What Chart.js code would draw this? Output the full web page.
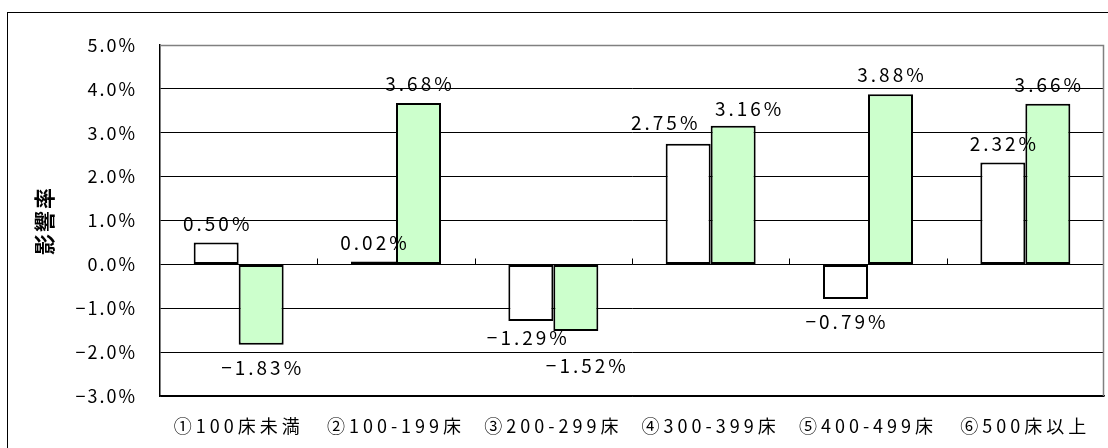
<!DOCTYPE html>
<html>
<head>
<meta charset="utf-8">
<script src="https://cdn.jsdelivr.net/npm/chart.js@4/dist/chart.umd.min.js"></script>
<style>
  html, body { margin: 0; padding: 0; background: #fff; overflow: hidden; }
  #frame { position: absolute; left: 7px; top: 12px; width: 1200px; height: 600px; border: 1px solid #000; }
  #chartCanvas { position: absolute; left: 0; top: 0; }
</style>
</head>
<body>
<div id="frame"></div>
<canvas id="chartCanvas" width="1108" height="448"></canvas>
<script>
// categories and values (percent)
const categories = ['①100床未満', '②100-199床', '③200-299床', '④300-399床', '⑤400-499床', '⑥500床以上'];
const seriesWhite = [0.50, 0.02, -1.29, 2.75, -0.79, 2.32];
const seriesGreen = [-1.83, 3.68, -1.52, 3.16, 3.88, 3.66];
const yMin = -3;
const yMax = 5;
const yStep = 1;
const axisTitle = '影響率';

// hand-moved labels in the original: [dx, dy] per bar
const nudgeWhite = [[0, 0], [0, 0], [-4, -6], [-24, -2], [0, 0], [0, 0]];
const nudgeGreen = [[0, 0], [0, 0], [10, 12], [15, 2], [0, 0], [0, 0]];

const FONT = '"Noto Sans CJK JP", "Noto Sans", sans-serif';

function fmt(v, digits) {
    const s = Math.abs(v).toFixed(digits) + '%';
    return v < 0 ? '−' + s : s;
}

// letter spacing: 2px for most text, wider for the category labels
const spacing = {
    id: 'spacing',
    beforeLayout(chart) { chart.ctx.letterSpacing = '2px'; },
    beforeDraw(chart) {
        chart.ctx.letterSpacing = '2px';
        const xs = chart.scales.x;
        if (!xs._spaced) {
            const orig = xs.drawLabels;
            xs.drawLabels = function (area) {
                this.ctx.letterSpacing = '4px';
                orig.call(this, area);
                this.ctx.letterSpacing = '2px';
            };
            xs._spaced = true;
        }
    }
};

// value labels above / below each bar
const valueLabels = {
    id: 'valueLabels',
    afterDatasetsDraw(chart) {
        const ctx = chart.ctx;
        const nudges = [nudgeWhite, nudgeGreen];
        ctx.save();
        ctx.font = '19px ' + FONT;
        ctx.letterSpacing = '3px';
        ctx.fillStyle = '#000';
        ctx.textAlign = 'center';
        ctx.textBaseline = 'middle';
        chart.data.datasets.forEach((ds, di) => {
            chart.getDatasetMeta(di).data.forEach((bar, i) => {
                const v = ds.data[i];
                const n = nudges[di][i];
                const y = v >= 0 ? bar.y - 19 : bar.y + 23;
                ctx.fillText(fmt(v, 2), bar.x + n[0] + 1.5, y + n[1]);
            });
        });
        ctx.restore();
    }
};

// grey plot-area border on top/right and category tick marks on the zero line
const frameMarks = {
    id: 'frameMarks',
    beforeDatasetsDraw(chart) {
        const ctx = chart.ctx;
        const a = chart.chartArea;
        const x = chart.scales.x;
        const y0 = Math.round(chart.scales.y.getPixelForValue(0)) + 0.5;
        ctx.save();
        ctx.strokeStyle = '#808080';
        ctx.lineWidth = 1.5;
        ctx.beginPath();
        ctx.moveTo(a.left, a.top + 0.5);
        ctx.lineTo(a.right - 0.5, a.top + 0.5);
        ctx.lineTo(a.right - 0.5, a.bottom);
        ctx.stroke();
        ctx.strokeStyle = '#000';
        ctx.lineWidth = 1;
        ctx.beginPath();
        for (let i = 1; i < categories.length; i++) {
            const px = Math.round(x.getPixelForValue(i - 0.5)) + 0.5;
            ctx.moveTo(px, y0);
            ctx.lineTo(px, y0 - 6);
        }
        ctx.stroke();
        ctx.restore();
    }
};

const ctx = document.getElementById('chartCanvas').getContext('2d');
new Chart(ctx, {
    type: 'bar',
    data: {
        labels: categories,
        datasets: [{
            data: seriesWhite,
            backgroundColor: '#ffffff',
            borderColor: '#000000',
            borderWidth: 2,
            borderSkipped: false,
            minBarLength: 3
        }, {
            data: seriesGreen,
            backgroundColor: '#ccffcc',
            borderColor: '#000000',
            borderWidth: 2,
            borderSkipped: false
        }]
    },
    options: {
        responsive: false,
        animation: false,
        devicePixelRatio: 1,
        categoryPercentage: 0.572,
        barPercentage: 1.0,
        layout: { padding: { left: 0, top: 45, right: 4, bottom: 0 } },
        plugins: {
            legend: { display: false },
            tooltip: { enabled: false }
        },
        scales: {
            x: {
                grid: { display: false, drawTicks: false },
                border: { display: true, color: '#000', width: 1.5 },
                ticks: {
                    color: '#000',
                    font: { family: FONT, size: 18 },
                    padding: 19,
                    maxRotation: 0,
                    autoSkip: false
                },
                afterFit(s) { s.height = 52; }
            },
            y: {
                min: yMin,
                max: yMax,
                grid: {
                    drawTicks: false,
                    color: c => (c.tick && c.tick.value === yMax) ? 'rgba(0,0,0,0)' : '#000',
                    lineWidth: 1
                },
                border: { display: true, color: '#000', width: 1.5 },
                ticks: {
                    stepSize: yStep,
                    color: '#000',
                    font: { family: FONT, size: 18 },
                    padding: 23,
                    callback: v => fmt(v, 1)
                },
                title: {
                    display: true,
                    text: axisTitle,
                    color: '#000',
                    font: { family: FONT, size: 21, weight: 'bold' },
                    padding: { top: 31, bottom: 0 }
                },
                afterFit(s) { s.width = 160; }
            }
        }
    },
    plugins: [spacing, valueLabels, frameMarks]
});
</script>
</body>
</html>
